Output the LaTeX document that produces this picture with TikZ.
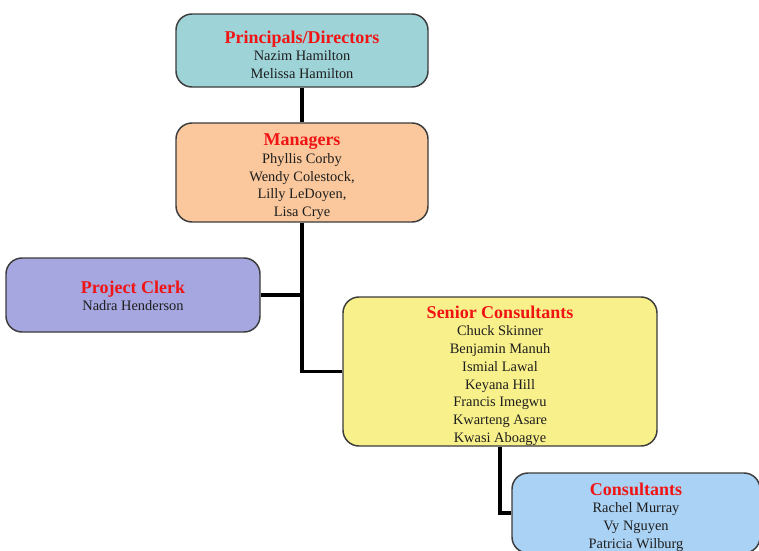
\documentclass[tikz,border=0pt]{standalone}
\usepackage{xcolor}
\usepackage{tikz}
\usepackage{fontspec}
\setmainfont{Liberation Serif}
\usetikzlibrary{positioning, calc}
\definecolor{headred}{HTML}{F01414}
\definecolor{namedark}{HTML}{1E1E1E}
\definecolor{edgegray}{HTML}{3C3C3C}
\definecolor{tealfill}{HTML}{9ED3D8}
\definecolor{peachfill}{HTML}{FAC89C}
\definecolor{lavfill}{HTML}{A6A6E0}
\definecolor{yellowfill}{HTML}{F8F08A}
\definecolor{skyfill}{HTML}{AAD2F4}
\tikzstyle{unit} = [rectangle, rounded corners=12, draw=edgegray, line width=1.1pt, inner sep=0pt]
\tikzstyle{names} = [align=center, anchor=north, inner sep=0pt, text=namedark, font=\fontsize{10.8}{13.3}\selectfont]
\tikzstyle{link} = [line width=2.6pt, black]
\newcommand{\head}[1]{{\fontsize{13.5}{13.3}\selectfont\bfseries\color{headred}#1}}

\begin{document}
\begin{tikzpicture}[x=0.75pt, y=-0.75pt]
    \clip (0,0) rectangle (759,550);
    \fill[white] (0,0) rectangle (759,550);

    \node[unit, fill=tealfill, minimum width=252*0.75pt, minimum height=73*0.75pt] (principals) at (302,50.5) {};
    \node[unit, fill=peachfill, minimum width=252*0.75pt, minimum height=99*0.75pt] (managers) at (302,172.5) {};
    \node[unit, fill=lavfill, minimum width=254*0.75pt, minimum height=74*0.75pt] (clerk) at (133,295) {};
    \node[unit, fill=yellowfill, minimum width=314*0.75pt, minimum height=149*0.75pt] (senior) at (500,371.5) {};
    \node[unit, fill=skyfill, minimum width=248*0.75pt, minimum height=80*0.75pt] (consultants) at (636,513) {};

    \draw[link] (principals.south) -- (managers.north);
    \draw[link] (managers.south) |- (senior.west);
    \draw[link] (clerk.east) -- (clerk.east -| managers.south);
    \draw[link] (senior.south) |- (consultants.west);

    \node[names] (principals-txt) at (302,30.5) {\head{Principals/Directors}\\ Nazim Hamilton\\ Melissa Hamilton};
    \node[names] (managers-txt) at (302,133.5) {\head{Managers}\\ Phyllis Corby\\ Wendy Colestock,\\ Lilly LeDoyen,\\ Lisa Crye};
    \node[names] (clerk-txt) at (133,280.5) {\head{Project Clerk}\\ Nadra Henderson};
    \node[names] (senior-txt) at (500,305.5) {\head{Senior Consultants}\\ Chuck Skinner\\ Benjamin Manuh\\ Ismial Lawal\\ Keyana Hill\\ Francis Imegwu\\ Kwarteng Asare\\ Kwasi Aboagye};
    \node[names] (consultants-txt) at (636,482.5) {\head{Consultants}\\ Rachel Murray\\ Vy Nguyen\\ Patricia Wilburg};
\end{tikzpicture}
\end{document}
